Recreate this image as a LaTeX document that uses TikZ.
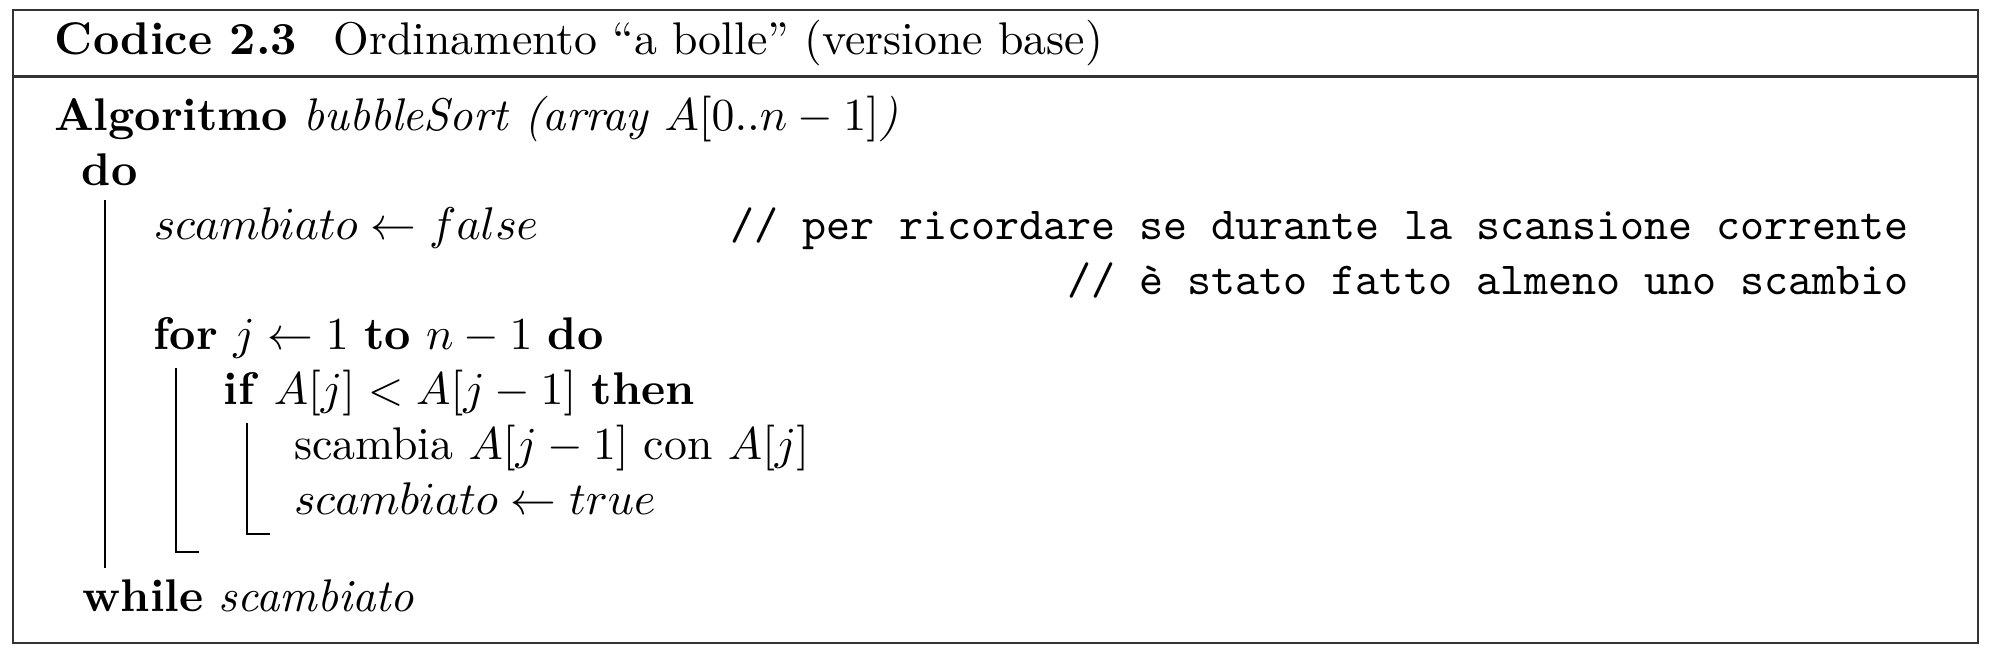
\documentclass[tikz,border=0pt]{standalone}
\usepackage{amsmath}
\usetikzlibrary{positioning}

\tikzset{
  codeline/.style={inner sep=0pt, anchor=base west},
  remark/.style={inner sep=0pt, anchor=base east, font=\ttfamily},
  blockline/.style={line width=0.4pt},
  boxline/.style={line width=0.5pt, draw=black!80}
}
\newcommand{\kw}[1]{\textbf{#1}}

\begin{document}
\begin{tikzpicture}[x=1pt, y=-1pt]
    \useasboundingbox (0,0) rectangle (435.8,144.1);

    % Frame and caption bar
    \draw[boxline] (2.8,2.2) rectangle (431.9,140.4);
    \draw[boxline] (2.8,16.7) -- (431.9,16.7);
    \node[codeline] (title) at (11.8,12) {\kw{Codice 2.3}\hspace{8pt}Ordinamento “a bolle” (versione base)};

    % Code lines
    \node[codeline] (algo) at (11.6,28.4) {\kw{Algoritmo} \textit{bubbleSort (array $A[0..n-1]$)}};
    \node[codeline] (kwdo) at (17.7,40.4) {\kw{do}};
    \node[codeline] (init) at (33.4,52.4) {$scambiato \leftarrow false$};
    \node[remark] (cmtA) at (417,52.4) {// per ricordare se durante la scansione corrente};
    \node[remark] (cmtB) at (417,64.4) {// è stato fatto almeno uno scambio};
    \node[codeline] (kwfor) at (33.4,76.4) {\kw{for} $j \leftarrow 1$ \kw{to} $n-1$ \kw{do}};
    \node[codeline] (kwif) at (48.7,88.4) {\kw{if} $A[j] < A[j-1]$ \kw{then}};
    \node[codeline] (swap) at (64,100.4) {scambia $A[j-1]$ con $A[j]$};
    \node[codeline] (setflag) at (64,112.4) {$scambiato \leftarrow true$};
    \node[codeline] (kwwhile) at (17.9,133.6) {\kw{while} \textit{scambiato}};

    % Block lines
    \coordinate (doTop) at (22.9,43.7);
    \coordinate (doEnd) at (22.9,124);
    \coordinate (forTop) at (38.4,80.3);
    \coordinate (forEnd) at (38.4,120.5);
    \coordinate (forFoot) at (43.4,120.5);
    \coordinate (ifTop) at (53.9,92.4);
    \coordinate (ifEnd) at (53.9,116.6);
    \coordinate (ifFoot) at (59,116.6);
    \draw[blockline] (doTop) -- (doEnd);
    \draw[blockline] (forTop) -- (forEnd) -- (forFoot);
    \draw[blockline] (ifTop) -- (ifEnd) -- (ifFoot);
\end{tikzpicture}
\end{document}
